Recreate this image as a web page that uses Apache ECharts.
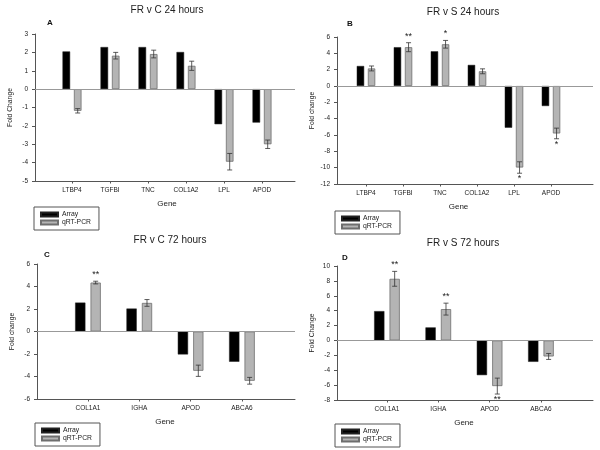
<!DOCTYPE html>
<html><head><meta charset="utf-8">
<script src="https://cdn.jsdelivr.net/npm/echarts@6/dist/echarts.min.js"></script>
<style>html,body{margin:0;padding:0;background:#fff}#c{width:600px;height:450px}</style>
</head><body><div id="c"></div>
<script>
// ---- data ----
const genesA = ['LTBP4','TGFBI','TNC','COL1A2','LPL','APOD'];
const arrayA = [2.05, 2.29, 2.29, 2.02, -1.91, -1.82];
const pcrA   = [-1.18, 1.82, 1.91, 1.27, -3.95, -3.0];
const errA   = [0.12, 0.18, 0.21, 0.25, 0.45, 0.23];
const sigA   = ['', '', '', '', '', ''];

const genesB = ['LTBP4','TGFBI','TNC','COL1A2','LPL','APOD'];
const arrayB = [2.45, 4.75, 4.25, 2.58, -5.11, -2.45];
const pcrB   = [2.15, 4.75, 5.11, 1.8, -9.98, -5.81];
const errB   = [0.3, 0.55, 0.47, 0.3, 0.7, 0.65];
const sigB   = ['', '**', '*', '', '*', '*'];

const genesC = ['COL1A1','IGHA','APOD','ABCA6'];
const arrayC = [2.57, 2.04, -2.04, -2.69];
const pcrC   = [4.35, 2.54, -3.49, -4.38];
const errC   = [0.12, 0.3, 0.5, 0.3];
const sigC   = ['**', '', '', ''];

const genesD = ['COL1A1','IGHA','APOD','ABCA6'];
const arrayD = [3.94, 1.75, -4.66, -2.87];
const pcrD   = [8.28, 4.21, -6.13, -2.15];
const errD   = [1.0, 0.8, 1.07, 0.4];
const sigD   = ['**', '**', '**', ''];

const titles  = ['FR v C 24 hours', 'FR v S 24 hours', 'FR v C 72 hours', 'FR v S 72 hours'];
const letters = ['A', 'B', 'C', 'D'];
const yNames  = ['Fold Change', 'Fold change', 'Fold change', 'Fold Change'];
const yMin = [-5, -12, -6, -8];
const yMax = [3, 6, 6, 10];
const yStep = [1, 2, 2, 2];
const seriesNames = ['Array', 'qRT-PCR'];

// ---- layout ----
const FONT = '"Liberation Sans", Arial, sans-serif';
const panels = [
  {genes: genesA, arr: arrayA, pcr: pcrA, err: errA, sig: sigA,
   axis: {left: 35, top: 34, width: 260, height: 147}, data: {left: 53, width: 228},
   title: [167, 5], letter: [47, 19], legend: [34, 207]},
  {genes: genesB, arr: arrayB, pcr: pcrB, err: errB, sig: sigB,
   axis: {left: 337, top: 37, width: 256, height: 147}, data: {left: 347.5, width: 222},
   title: [463, 7], letter: [347, 20], legend: [335, 211]},
  {genes: genesC, arr: arrayC, pcr: pcrC, err: errC, sig: sigC,
   axis: {left: 37, top: 264, width: 258, height: 135}, data: {left: 62.3, width: 205.3},
   title: [170, 235], letter: [44, 251], legend: [35, 423]},
  {genes: genesD, arr: arrayD, pcr: pcrD, err: errD, sig: sigD,
   axis: {left: 337, top: 266, width: 256, height: 134}, data: {left: 361.3, width: 205.3},
   title: [463, 238], letter: [342, 254], legend: [335, 424]}
];

const AXIS_COLOR = '#555';
const grid = [], xAxis = [], yAxis = [], series = [], title = [], legend = [];

panels.forEach((p, k) => {
  const ga = 2 * k, gd = 2 * k + 1;
  grid.push({left: p.axis.left, top: p.axis.top, width: p.axis.width, height: p.axis.height});
  grid.push({left: p.data.left, top: p.axis.top, width: p.data.width, height: p.axis.height});

  xAxis.push({type: 'value', gridIndex: ga, min: 0, max: 1,
    axisLine: {show: true, onZero: false, lineStyle: {color: AXIS_COLOR, width: 1}},
    axisTick: {show: false}, axisLabel: {show: false}, splitLine: {show: false}});
  xAxis.push({type: 'category', gridIndex: gd, data: p.genes,
    axisLine: {show: false, onZero: false},
    axisTick: {show: true, alignWithLabel: true, length: 2.5, lineStyle: {color: AXIS_COLOR}},
    axisLabel: {fontSize: 6.5, fontFamily: FONT, color: '#222', margin: 6},
    name: 'Gene', nameLocation: 'middle', nameGap: 19,
    nameTextStyle: {fontSize: 8, fontFamily: FONT, color: '#222'}});

  yAxis.push({type: 'value', gridIndex: ga, min: yMin[k], max: yMax[k], interval: yStep[k],
    axisLine: {show: true, lineStyle: {color: AXIS_COLOR, width: 1}},
    axisTick: {show: true, length: 3, lineStyle: {color: AXIS_COLOR}},
    axisLabel: {fontSize: 6.5, fontFamily: FONT, color: '#222', margin: 7},
    splitLine: {show: false},
    name: yNames[k], nameLocation: 'middle', nameGap: 21,
    nameTextStyle: {fontSize: 6.8, fontFamily: FONT, color: '#222'}});
  yAxis.push({type: 'value', gridIndex: gd, min: yMin[k], max: yMax[k], interval: yStep[k],
    show: false, splitLine: {show: false}});

  // zero reference line across whole axis frame
  series.push({type: 'line', xAxisIndex: ga, yAxisIndex: ga, data: [], silent: true,
    markLine: {silent: true, symbol: 'none', label: {show: false},
      lineStyle: {color: '#999', width: 1, type: 'solid'}, data: [{yAxis: 0}]}});

  series.push({name: seriesNames[0], type: 'bar', xAxisIndex: gd, yAxisIndex: gd,
    data: p.arr, barWidth: '20%', barGap: '50%',
    itemStyle: {color: '#000', borderColor: '#222', borderWidth: 0.5}});
  series.push({name: seriesNames[1], type: 'bar', xAxisIndex: gd, yAxisIndex: gd,
    data: p.pcr, barWidth: '20%', barGap: '50%',
    itemStyle: {color: '#b4b4b4', borderColor: '#6e6e6e', borderWidth: 0.8}});

  const sig = p.sig;
  series.push({type: 'custom', xAxisIndex: gd, yAxisIndex: gd, silent: true, z: 5,
    data: p.pcr.map((v, i) => [i, v, p.err[i]]),
    renderItem: function (params, api) {
      const i = api.value(0), v = api.value(1), e = api.value(2);
      const band = api.size([1, 0])[0];
      const off = band * 0.2 * 0.75;
      const hi = api.coord([i, v + e]);
      const lo = api.coord([i, v - e]);
      const x = hi[0] + off, c = 2.5;
      const st = {stroke: '#333', lineWidth: 0.8};
      const children = [
        {type: 'line', shape: {x1: x, y1: hi[1], x2: x, y2: lo[1]}, style: st},
        {type: 'line', shape: {x1: x - c, y1: hi[1], x2: x + c, y2: hi[1]}, style: st},
        {type: 'line', shape: {x1: x - c, y1: lo[1], x2: x + c, y2: lo[1]}, style: st}
      ];
      const s = sig[params.dataIndex];
      if (s) {
        const up = v >= 0;
        children.push({type: 'text', style: {text: s, x: x, y: up ? hi[1] - 2 : lo[1] + 1,
          align: 'center', verticalAlign: up ? 'bottom' : 'top',
          font: '9px ' + FONT, fill: '#222'}});
      }
      return {type: 'group', children: children};
    }});

  title.push({text: titles[k], left: p.title[0], top: p.title[1], textAlign: 'center', padding: 0,
    textStyle: {fontSize: 10, fontWeight: 'normal', fontFamily: FONT, color: '#222'}});
  title.push({text: letters[k], left: p.letter[0], top: p.letter[1], padding: 0,
    textStyle: {fontSize: 8, fontWeight: 'bold', fontFamily: FONT, color: '#111'}});

  legend.push({data: seriesNames, orient: 'vertical', left: p.legend[0], top: p.legend[1],
    icon: 'rect', itemWidth: 17, itemHeight: 4, itemGap: 1, padding: [4, 8, 4, 6],
    borderColor: '#555', borderWidth: 1, selectedMode: false,
    textStyle: {fontSize: 6.8, fontFamily: FONT, color: '#222', padding: [0, 0, 0, -1]}});
});

const chart = echarts.init(document.getElementById('c'), null, {renderer: 'canvas'});
chart.setOption({animation: false, backgroundColor: '#fff', grid, xAxis, yAxis, series, title, legend});
</script></body></html>
